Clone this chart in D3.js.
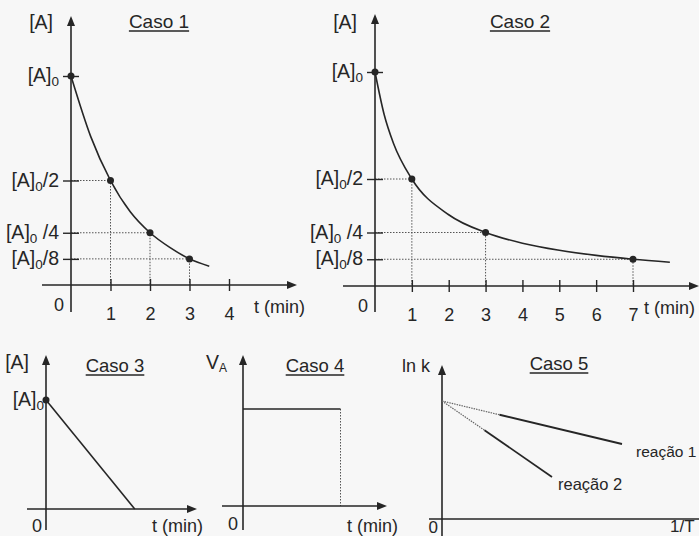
<!DOCTYPE html>
<html>
<head>
<meta charset="utf-8">
<script src="https://cdn.jsdelivr.net/npm/d3@7/dist/d3.min.js"></script>
<style>
  body { margin: 0; background: #f7f7f7; }
  svg { display: block; font-family: "Liberation Sans", Arial, sans-serif; }
</style>
</head>
<body>
<svg id="chart" width="699" height="536"></svg>
<script>
// Caso 1 - first order decay
const case1Time = [0, 0.5, 1, 1.5, 2, 2.5, 3, 3.5];
const case1Conc = [1, 0.71, 0.5, 0.35, 0.25, 0.18, 0.125, 0.09];
const case1HalfTime = [1, 2, 3];
const case1HalfConc = [0.5, 0.25, 0.125];
const case1Ticks = [1, 2, 3, 4];

// Caso 2 - second order decay
const case2Time = [0, 0.25, 0.5, 1, 2, 3, 4, 5, 6, 7, 8];
const case2Conc = [1, 0.8, 0.667, 0.5, 0.333, 0.25, 0.2, 0.167, 0.143, 0.125, 0.111];
const case2HalfTime = [1, 3, 7];
const case2HalfConc = [0.5, 0.25, 0.125];
const case2Ticks = [1, 2, 3, 4, 5, 6, 7];

// y tick values shared by casos 1 and 2
const concTicks = [1, 0.5, 0.25, 0.125];
const concSuffix = ['', '/2', ' /4', '/8'];

// Caso 3 - zero order, Caso 4 - constant rate
const case3Time = [0, 3.55];
const case3Conc = [1, 0];
const case4Time = [0, 3.9];
const case4Rate = [1, 1];

// Caso 5 - Arrhenius lines
const reaction1X = [0, 2.3, 7.2];
const reaction1Y = [4.72, 4.17, 3.0];
const reaction2X = [0, 1.7, 4.4];
const reaction2Y = [4.72, 3.55, 1.68];

const ink = '#262626';
const fs = 19.5;
const svg = d3.select('#chart');

const arrowRight = (g, x, y) => g.append('path')
  .attr('d', `M${x},${y} l-10,-4 l0,8 z`).attr('fill', ink);
const arrowUp = (g, x, y) => g.append('path')
  .attr('d', `M${x},${y} l-4,10 l8,0 z`).attr('fill', ink);

function hline(g, x1, x2, y) {
  return g.append('line').attr('x1', x1).attr('x2', x2).attr('y1', y).attr('y2', y)
    .attr('stroke', ink).attr('stroke-width', 1.6);
}
function vline(g, x, y1, y2) {
  return g.append('line').attr('x1', x).attr('x2', x).attr('y1', y1).attr('y2', y2)
    .attr('stroke', ink).attr('stroke-width', 1.6);
}

function label(g, x, y, txt, size, anchor) {
  return g.append('text').attr('x', x).attr('y', y)
    .attr('font-size', size || fs).attr('fill', ink)
    .attr('text-anchor', anchor || 'start').text(txt);
}

// [A] with subscript 0 and a suffix
function concLabel(g, x, y, suffix, anchor) {
  const t = g.append('text').attr('x', x).attr('y', y)
    .attr('font-size', fs).attr('fill', ink).attr('text-anchor', anchor || 'end');
  t.append('tspan').text('[A]');
  t.append('tspan').attr('font-size', 13.5).attr('dy', 4).text('0');
  if (suffix) t.append('tspan').attr('dy', -4).text(suffix);
  return t;
}

function title(g, x, y, txt, size) {
  const t = label(g, x, y, txt, size, 'middle');
  const w = t.node().getComputedTextLength();
  g.append('line').attr('x1', x - w / 2).attr('x2', x + w / 2)
    .attr('y1', y + 3).attr('y2', y + 3).attr('stroke', ink).attr('stroke-width', 1.3);
}

function xTicks(g, x, y0, ticks, labelY) {
  const ax = g.append('g').attr('transform', `translate(0,${y0})`)
    .call(d3.axisBottom(x).tickValues(ticks).tickSize(6).tickFormat(d3.format('d')));
  ax.select('.domain').remove();
  ax.selectAll('.tick line').attr('y1', -6).attr('stroke', ink).attr('stroke-width', 1.4);
  ax.selectAll('.tick text').attr('y', labelY).attr('dy', null)
    .attr('font-size', 18).attr('fill', ink).attr('font-family', null);
}

function yTicks(g, y, x0, ticks) {
  const ax = g.append('g').attr('transform', `translate(${x0},0)`)
    .call(d3.axisLeft(y).tickValues(ticks).tickSize(8).tickFormat(''));
  ax.select('.domain').remove();
  ax.selectAll('.tick line').attr('x2', -8).attr('x1', 8).attr('stroke', ink).attr('stroke-width', 1.4);
}

// decay panel used by casos 1 and 2
function decayPanel(o) {
  const g = svg.append('g');
  const x = d3.scaleLinear().domain(o.xDomain).range(o.xRange);
  const y = d3.scaleLinear().domain([0, 1]).range(o.yRange);
  const x0 = x(0), y0 = y(0);

  // guides
  o.halfTime.forEach((t, i) => {
    const c = o.halfConc[i];
    g.append('path')
      .attr('d', `M${x0},${y(c)}H${x(t)}V${y0}`)
      .attr('fill', 'none').attr('stroke', '#555').attr('stroke-width', 1)
      .attr('stroke-dasharray', '1.5,1.5');
  });

  hline(g, o.axisStart, o.axisEnd - 8, y0);
  arrowRight(g, o.axisEnd, y0);
  vline(g, x0, o.axisBottom, o.axisTop + 8);
  arrowUp(g, x0, o.axisTop);
  xTicks(g, x, y0, o.ticks, 35);
  yTicks(g, y, x0, concTicks);

  const curve = d3.line().x(d => x(d[0])).y(d => y(d[1])).curve(d3.curveMonotoneX);
  g.append('path').datum(o.time.map((t, i) => [t, o.conc[i]]))
    .attr('d', curve).attr('fill', 'none').attr('stroke', ink).attr('stroke-width', 1.6);

  g.selectAll('circle.half').data(o.halfTime.map((t, i) => [t, o.halfConc[i]]).concat([[0, 1]]))
    .enter().append('circle')
    .attr('cx', d => x(d[0])).attr('cy', d => y(d[1])).attr('r', 3.5).attr('fill', ink);

  concTicks.forEach((c, i) => concLabel(g, x0 - 12, y(c) + 6, concSuffix[i]));
  label(g, x0 - 18, 29, '[A]', fs, 'end');
  label(g, x0 - 7, y0 + 26, '0', 18, 'end');
  label(g, o.tLabelX, y0 + 28, 't (min)', 18);
  title(g, o.titleX, 28, o.title, 19);
}

decayPanel({
  xDomain: [0, 4], xRange: [71, 229], yRange: [285, 76],
  axisStart: 42, axisEnd: 297, axisTop: 16, axisBottom: 312,
  time: case1Time, conc: case1Conc, halfTime: case1HalfTime, halfConc: case1HalfConc,
  ticks: case1Ticks, tLabelX: 254, titleX: 159, title: 'Caso 1'
});

decayPanel({
  xDomain: [0, 7], xRange: [375, 633], yRange: [286, 72],
  axisStart: 343, axisEnd: 699, axisTop: 14, axisBottom: 312,
  time: case2Time, conc: case2Conc, halfTime: case2HalfTime, halfConc: case2HalfConc,
  ticks: case2Ticks, tLabelX: 644, titleX: 520, title: 'Caso 2'
});

// Caso 3
(function () {
  const g = svg.append('g');
  const x = d3.scaleLinear().domain([0, 6]).range([46, 196]);
  const y = d3.scaleLinear().domain([0, 1]).range([509, 400]);
  hline(g, 27, 189, y(0)); arrowRight(g, 197, y(0));
  vline(g, x(0), 530, 363); arrowUp(g, x(0), 355);
  g.append('path').datum(case3Time.map((t, i) => [t, case3Conc[i]]))
    .attr('d', d3.line().x(d => x(d[0])).y(d => y(d[1])))
    .attr('fill', 'none').attr('stroke', ink).attr('stroke-width', 1.6);
  g.append('circle').attr('cx', x(0)).attr('cy', y(1)).attr('r', 3.5).attr('fill', ink);
  concLabel(g, 44, 406, '');
  label(g, 29, 369, '[A]', fs, 'end');
  label(g, 42, 532, '0', 18, 'end');
  label(g, 152, 532, 't (min)', 18);
  title(g, 115, 372, 'Caso 3', 18.5);
})();

// Caso 4
(function () {
  const g = svg.append('g');
  const x = d3.scaleLinear().domain([0, 6]).range([243, 393]);
  const y = d3.scaleLinear().domain([0, 1]).range([506, 409]);
  g.append('line').attr('x1', x(case4Time[1])).attr('x2', x(case4Time[1]))
    .attr('y1', y(case4Rate[1])).attr('y2', y(0))
    .attr('stroke', '#555').attr('stroke-width', 1).attr('stroke-dasharray', '1.5,1.5');
  hline(g, 222, 379, y(0)); arrowRight(g, 387, y(0));
  vline(g, x(0), 530, 363); arrowUp(g, x(0), 355);
  g.append('path').datum(case4Time.map((t, i) => [t, case4Rate[i]]))
    .attr('d', d3.line().x(d => x(d[0])).y(d => y(d[1])))
    .attr('fill', 'none').attr('stroke', ink).attr('stroke-width', 1.6);
  const v = g.append('text').attr('x', 206).attr('y', 369).attr('font-size', fs).attr('fill', ink);
  v.append('tspan').text('V');
  v.append('tspan').attr('font-size', 12).attr('dy', 3).text('A');
  label(g, 238, 530, '0', 18, 'end');
  label(g, 347, 532, 't (min)', 18);
  title(g, 315, 372, 'Caso 4', 18.5);
})();

// Caso 5
(function () {
  const g = svg.append('g');
  const x = d3.scaleLinear().domain([0, 10]).range([442, 692]);
  const y = d3.scaleLinear().domain([0, 6]).range([519, 369]);
  hline(g, 429, 699, y(0));
  vline(g, x(0), 536, 373); arrowUp(g, x(0), 365);
  const line = d3.line().x(d => x(d[0])).y(d => y(d[1]));
  [[reaction1X, reaction1Y], [reaction2X, reaction2Y]].forEach(([xs, ys]) => {
    const pts = xs.map((v, i) => [v, ys[i]]);
    g.append('path').datum(pts.slice(0, 2)).attr('d', line)
      .attr('fill', 'none').attr('stroke', '#666').attr('stroke-width', 1.2)
      .attr('stroke-dasharray', '1.5,1');
    g.append('path').datum(pts.slice(1)).attr('d', line)
      .attr('fill', 'none').attr('stroke', ink).attr('stroke-width', 1.8);
  });
  label(g, 636, 457, 'reação 1', 15.5);
  label(g, 558, 490, 'reação 2', 16.5);
  label(g, 402, 372, 'ln k', 18);
  label(g, 438, 533, '0', 17, 'end');
  label(g, 670, 532, '1/T', 17);
  title(g, 559, 370, 'Caso 5', 18.5);
})();
</script>
</body>
</html>
